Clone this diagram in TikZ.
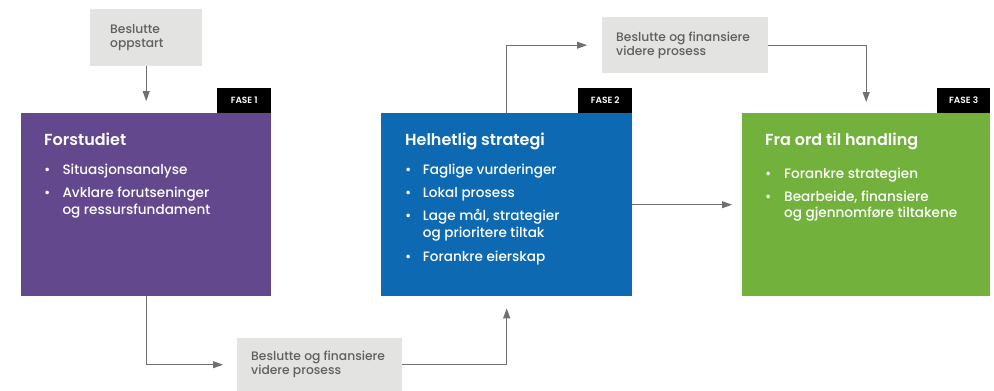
\documentclass[tikz,border=0pt]{standalone}
\usepackage{fontspec}
\setmainfont{Poppins}[UprightFont={* Medium}, BoldFont={* SemiBold}]
\usetikzlibrary{arrows.meta}
\definecolor{fpurple}{RGB}{99,72,142}
\definecolor{fblue}{RGB}{12,105,178}
\definecolor{fgreen}{RGB}{114,178,60}
\definecolor{boxgray}{RGB}{227,228,226}
\definecolor{graytext}{RGB}{95,95,95}
\definecolor{linegray}{RGB}{112,112,112}
\begin{document}
\begin{tikzpicture}[x=1pt,y=-1pt,
  phase/.style={inner sep=0pt, minimum width=250pt, minimum height=183pt, anchor=north west},
  tab/.style={fill=black, text=white, font=\bfseries\fontsize{9}{9}\selectfont, inner sep=0pt,
    minimum width=54pt, minimum height=25pt, anchor=south east},
  gbox/.style={fill=boxgray, inner sep=0pt, anchor=north west},
  gtext/.style={text=graytext, font=\fontsize{12.3}{14.3}\selectfont, align=left, anchor=west, inner sep=0pt},
  ttl/.style={text=white, font=\bfseries\fontsize{16}{18}\selectfont, anchor=base west, inner sep=0pt},
  itm/.style={text=white, font=\fontsize{13.6}{17}\selectfont, anchor=base west, inner sep=0pt},
  bul/.style={text=white, font=\fontsize{13.6}{17}\selectfont, anchor=base, inner sep=0pt},
  arr/.style={draw=linegray, line width=0.9pt, -{Triangle[length=10pt,width=7pt]}}
]
\useasboundingbox (0,0) rectangle (994,391);
\fill[white] (0,0) rectangle (994,391);

% phase boxes
\node[phase, fill=fpurple] (b1) at (21,113) {};
\node[phase, fill=fblue, minimum width=251pt] (b2) at (381,113) {};
\node[phase, fill=fgreen, minimum width=248pt] (b3) at (742,113) {};
\node[tab] (f1) at (b1.north east) {FASE 1};
\node[tab] (f2) at (b2.north east) {FASE 2};
\node[tab, minimum width=53pt] (f3) at (b3.north east) {FASE 3};

% gray decision boxes
\node[gbox, minimum width=112pt, minimum height=57pt] (g1) at (90,9) {};
\node[gtext] (g1t) at ([xshift=20pt]g1.west) {Beslutte\\oppstart};
\node[gbox, minimum width=166pt, minimum height=56pt] (g2) at (602,17) {};
\node[gtext] (g2t) at ([xshift=14pt]g2.west) {Beslutte og finansiere\\videre prosess};
\node[gbox, minimum width=165pt, minimum height=53pt] (g3) at (237,338) {};
\node[gtext] (g3t) at ([xshift=14pt]g3.west) {Beslutte og finansiere\\videre prosess};

% box 1 text
\node[ttl] (t1) at (44,145.7) {Forstudiet};
\node[bul] (t1b1) at (47.3,174.3) {•};
\node[itm] (t1i1) at (62.3,174.3) {Situasjonsanalyse};
\node[bul] (t1b2) at (47.3,197.7) {•};
\node[itm] (t1i2) at (62.3,197.7) {Avklare forutseninger};
\node[itm] (t1i3) at (62.3,214.5) {og ressursfundament};

% box 2 text
\node[ttl] (t2) at (405,145.7) {Helhetlig strategi};
\node[bul] (t2b1) at (408.3,174.3) {•};
\node[itm] (t2i1) at (422.7,174.3) {Faglige vurderinger};
\node[bul] (t2b2) at (408.3,197.6) {•};
\node[itm] (t2i2) at (422.7,197.6) {Lokal prosess};
\node[bul] (t2b3) at (408.3,220.9) {•};
\node[itm] (t2i3) at (422.7,220.9) {Lage mål, strategier};
\node[itm] (t2i4) at (422.7,237.9) {og prioritere tiltak};
\node[bul] (t2b4) at (408.3,261.2) {•};
\node[itm] (t2i5) at (422.7,261.2) {Forankre eierskap};

% box 3 text
\node[ttl] (t3) at (765,145.7) {Fra ord til handling};
\node[bul] (t3b1) at (768.3,178.3) {•};
\node[itm] (t3i1) at (784,178.3) {Forankre strategien};
\node[bul] (t3b2) at (768.3,201) {•};
\node[itm] (t3i2) at (784,201) {Bearbeide, finansiere};
\node[itm] (t3i3) at (784,217.7) {og gjennomføre tiltakene};

% connectors
\draw[arr, shorten >=12pt] (g1.south) -- (g1.south |- b1.north);
\draw[arr, shorten >=14pt] (b1.south) |- (g3.west);
\draw[arr, shorten >=12pt] (g3.east) -| (b2.south);
\draw[arr, shorten >=15pt] (b2.north) |- (g2.west);
\draw[arr, shorten >=11pt] (g2.east) -| (b3.north);
\draw[arr, shorten >=10pt] (b2.east) -- (b3.west);
\end{tikzpicture}
\end{document}
